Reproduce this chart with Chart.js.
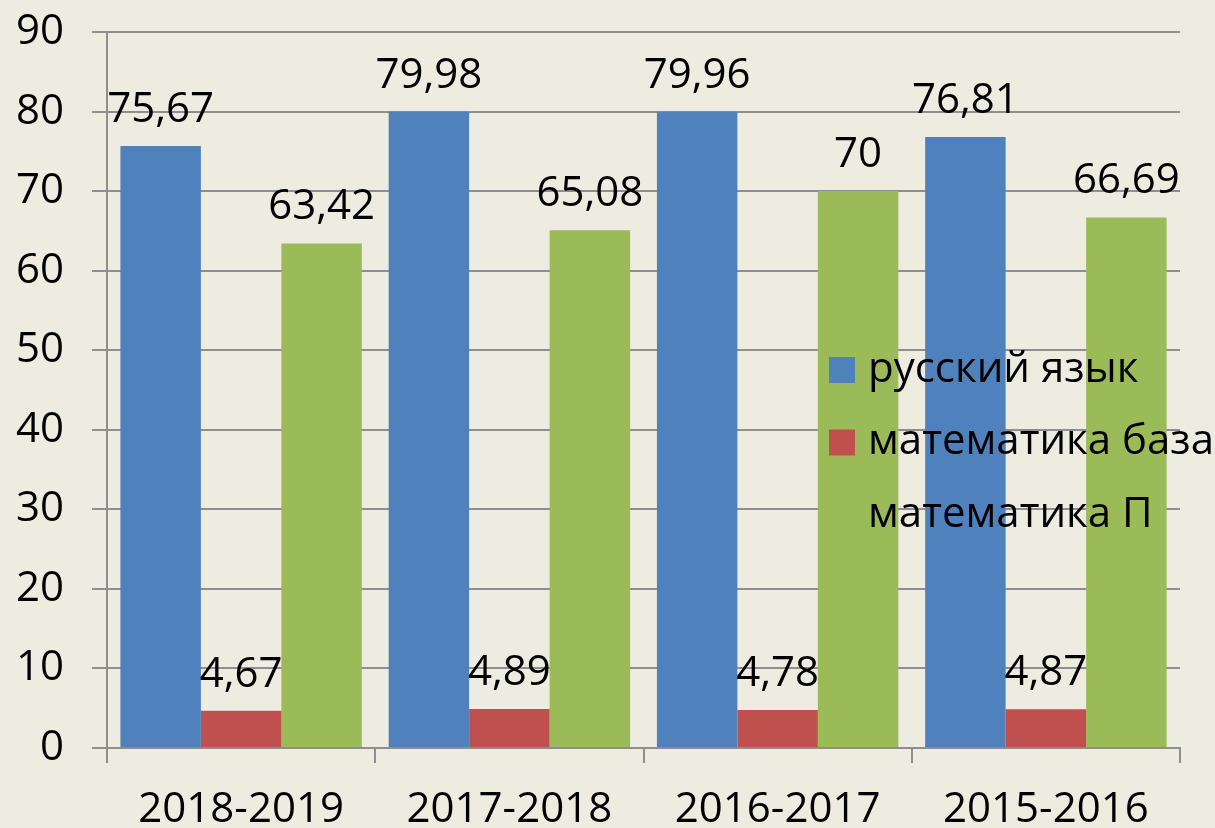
<!DOCTYPE html>
<html>
<head>
<meta charset="utf-8">
<script src="https://cdn.jsdelivr.net/npm/chart.js@4"></script>
<style>
  html, body { margin: 0; padding: 0; background: #EEECE1; }
  canvas { display: block; }
</style>
</head>
<body>
<canvas id="chart" width="1215" height="828"></canvas>
<script>
const years = ["2018-2019", "2017-2018", "2016-2017", "2015-2016"];
const russian = [75.67, 79.98, 79.96, 76.81];
const mathBase = [4.67, 4.89, 4.78, 4.87];
const mathProfile = [63.42, 65.08, 70, 66.69];
const seriesNames = ["русский язык", "математика база", "математика П"];
const seriesColors = ["#4F81BD", "#C0504D", "#9BBB59"];

const FONT = "'Open Sans', 'Noto Sans', sans-serif";

const formatValue = (v) => String(v).replace(".", ",");

const background = {
  id: "background",
  beforeDraw(chart) {
    const ctx = chart.ctx;
    ctx.save();
    ctx.fillStyle = "#EEECE1";
    ctx.fillRect(0, 0, chart.width, chart.height);
    ctx.restore();
  }
};

const valueLabels = {
  id: "valueLabels",
  afterDatasetsDraw(chart) {
    const ctx = chart.ctx;
    ctx.save();
    ctx.font = "42px " + FONT;
    ctx.fillStyle = "#000";
    ctx.textAlign = "center";
    ctx.textBaseline = "alphabetic";
    chart.data.datasets.forEach((ds, i) => {
      chart.getDatasetMeta(i).data.forEach((bar, j) => {
        ctx.fillText(formatValue(ds.data[j]), bar.x, bar.y - 24);
      });
    });
    ctx.restore();
  }
};

const insideLegend = {
  id: "insideLegend",
  afterDatasetsDraw(chart) {
    const ctx = chart.ctx;
    ctx.save();
    ctx.font = "42px " + FONT;
    ctx.textBaseline = "middle";
    ctx.textAlign = "left";
    chart.data.datasets.forEach((ds, i) => {
      const y = 370 + i * 72.5;
      ctx.fillStyle = ds.backgroundColor;
      ctx.fillRect(829, y - 13, 26, 26);
      ctx.fillStyle = "#000";
      ctx.fillText(ds.label, 868, y);
    });
    ctx.restore();
  }
};

new Chart(document.getElementById("chart"), {
  type: "bar",
  data: {
    labels: years,
    datasets: [
      { label: seriesNames[0], data: russian, backgroundColor: seriesColors[0] },
      { label: seriesNames[1], data: mathBase, backgroundColor: seriesColors[1] },
      { label: seriesNames[2], data: mathProfile, backgroundColor: seriesColors[2] },
    ],
  },
  options: {
    responsive: false,
    animation: false,
    layout: { padding: { top: 32, right: 35, left: 0, bottom: 0 } },
    datasets: {
      bar: { categoryPercentage: 0.9, barPercentage: 1.0, borderWidth: 0 }
    },
    plugins: {
      legend: { display: false },
      tooltip: { enabled: false },
    },
    scales: {
      x: {
        afterFit: (scale) => {
          scale.height = 80;
          scale.paddingLeft = 0;
          scale.paddingRight = 0;
        },
        grid: {
          offset: true,
          drawOnChartArea: false,
          color: "#8E8E8E",
          lineWidth: 2,
          tickLength: 15,
        },
        border: { color: "#8E8E8E", width: 2 },
        ticks: {
          color: "#000",
          padding: 22,
          font: { family: FONT, size: 42 },
        },
      },
      y: {
        min: 0,
        max: 90,
        afterFit: (scale) => {
          scale.width = 107;
          scale.paddingTop = 0;
          scale.paddingBottom = 0;
        },
        grid: {
          color: "#8E8E8E",
          lineWidth: 2,
          tickLength: 15,
        },
        border: { color: "#8E8E8E", width: 2 },
        ticks: {
          stepSize: 10,
          color: "#000",
          padding: 28,
          font: { family: FONT, size: 42 },
        },
      },
    },
  },
  plugins: [background, valueLabels, insideLegend],
});
</script>
</body>
</html>
